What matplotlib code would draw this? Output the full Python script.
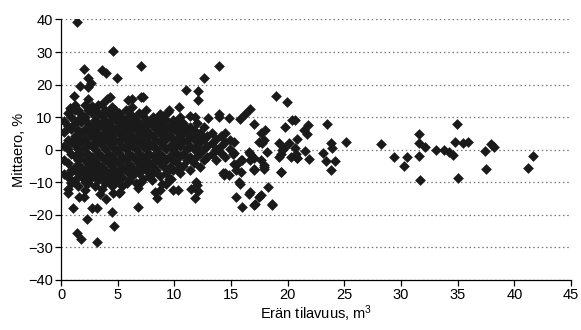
import matplotlib.pyplot as plt
import numpy as np

plt.rcParams['font.family'] = ['Liberation Sans', 'DejaVu Sans']
plt.rcParams['mathtext.default'] = 'regular'

# dense core: column x positions and the y values read in each column
core_x = [0.3, 0.6, 0.9, 1.2, 1.5, 1.8, 2.1, 2.4, 2.7, 3.0, 3.3, 3.6, 3.9, 4.2,
          4.5, 4.8, 5.1, 5.4, 5.7, 6.0, 6.3, 6.6, 6.9, 7.2, 7.5, 7.8, 8.1, 8.4,
          8.7, 9.0, 9.3, 9.6, 9.9, 10.2, 10.5, 10.8, 11.1, 11.4, 11.7, 12.0,
          12.3, 12.6, 12.9, 13.3, 13.7, 14.1, 14.5, 14.9, 15.3]
core_y = [
    [-3.2, 1.1, 5.4, -7.5, 8.8],
    [-12.1, -8.3, -4.2, 0.3, 3.1, 7.2, 11.4],
    [-10.2, -6.1, -1.3, 2.2, 6.3, 10.1, 12.6],
    [-9.3, -5.2, -2.1, 1.4, 4.2, 8.1, 12.2],
    [-11.2, -7.1, -3.3, 0.2, 3.4, 6.1, 9.2, 12.3],
    [-8.2, -5.4, -1.2, 2.3, 5.1, 8.4, 11.1],
    [-12.3, -9.1, -6.2, -3.1, 0.4, 3.2, 6.3, 10.1, 13.8],
    [-10.1, -7.3, -4.1, -1.2, 2.1, 5.3, 8.2, 12.1],
    [-8.4, -5.2, -2.3, 1.1, 4.2, 7.1, 11.2, 13.3],
    [-11.1, -6.2, -3.1, 0.2, 3.3, 6.2, 9.1, 12.4],
    [-9.2, -7.1, -4.3, -1.1, 2.2, 5.1, 8.3, 11.2],
    [-12.2, -8.1, -5.3, -2.2, 1.3, 4.1, 7.2, 10.3, 14.1],
    [-10.3, -6.2, -3.1, 0.1, 3.2, 6.4, 9.1, 12.2],
    [-9.1, -7.2, -4.1, -1.3, 2.2, 5.1, 8.2, 11.3],
    [-11.3, -8.2, -5.1, -2.1, 1.2, 4.3, 7.1, 10.2, 13.2],
    [-10.1, -6.3, -3.2, 0.2, 3.1, 6.2, 9.3, 12.1],
    [-9.3, -7.1, -4.2, -1.1, 2.3, 5.2, 8.1, 11.2],
    [-11.1, -8.3, -5.2, -2.2, 1.1, 4.2, 7.3, 10.1],
    [-6.1, -3.2, 0.1, 3.2, 6.1, 9.2, 12.2],
    [-9.2, -7.1, -4.3, -1.2, 2.1, 5.3, 8.1, 11.3],
    [-8.1, -5.2, -2.1, 1.2, 4.1, 7.2, 10.3, 13.1],
    [-10.2, -6.1, -3.3, 0.2, 3.1, 6.2, 9.1],
    [-7.2, -4.1, -1.1, 2.3, 5.2, 8.1, 11.2],
    [-9.1, -5.2, -2.2, 1.1, 4.3, 7.1, 10.2],
    [-6.2, -3.1, 0.2, 3.3, 6.1, 9.2, 12.1],
    [-8.1, -4.2, -1.3, 2.1, 5.2, 8.3],
    [-7.1, -5.3, -2.1, 1.2, 4.1, 7.2, 10.1],
    [-6.2, -3.1, 0.3, 3.1, 6.2, 9.1],
    [-8.2, -4.1, -1.2, 2.2, 5.1, 8.2],
    [-5.1, -2.2, 1.1, 4.2, 7.1, 10.2],
    [-7.2, -3.1, 0.2, 3.3, 6.1, 9.2],
    [-5.2, -2.1, 1.2, 4.1, 7.2],
    [-6.1, -3.2, 0.1, 3.2, 6.3, 9.1],
    [-4.1, -1.2, 2.1, 5.3, 8.1],
    [-7.2, -2.1, 1.2, 4.1, 7.2, 10.1],
    [-5.1, -1.3, 2.2, 5.1, 8.2],
    [-3.2, 0.1, 3.1, 6.2],
    [-6.1, -2.2, 1.1, 4.3, 7.1, 10.2],
    [-4.2, 0.2, 3.2, 6.1],
    [-2.1, 1.2, 4.1, 8.2],
    [-5.2, -1.1, 2.3, 5.1],
    [-3.1, 0.2, 3.2, 7.1],
    [1.1, 4.2, -2.2],
    [-1.2, 2.1, 5.2],
    [0.1, 3.3, -3.1],
    [1.2, 4.1, -1.1],
    [-2.2, 2.2, 5.1],
    [0.2, 3.1],
    [-1.1, 2.2],
]

# points around the core, read one by one
spread_x = [1.38, 4.6, 7.06, 2.06, 3.6, 3.95, 4.9, 2.4, 2.65, 1.68, 2.4, 1.17,
            2.35, 0.8, 6.24, 7.1, 4.03, 4.3, 5.9, 3.3, 1.2, 13.9, 12.6, 11.0,
            12.1, 12.1, 10.4, 19.0, 19.9, 16.7, 16.2, 13.0, 13.9, 14.8, 15.8,
            17.0, 18.0, 20.4, 19.8, 21.4, 11.8, 9.5, 7.2, 9.4, 8.7, 13.9, 17.6,
            17.9, 17.5, 19.2, 19.7, 20.6, 19.2, 16.6, 16.7, 15.3, 15.9, 17.9,
            17.6, 20.3, 20.7, 10.35, 9.7, 10.3, 11.5, 12.0, 11.8, 12.1, 14.5,
            15.4, 15.4, 15.8, 15.95, 16.7, 17.1, 17.6, 18.3, 18.6, 17.0, 17.9,
            17.0, 16.7, 19.4, 19.4, 19.5, 20.8, 20.1, 15.95, 15.2, 14.3, 14.8,
            17.7, 18.2, 9.3, 0.94, 0.6, 1.6, 2.06, 1.09, 2.7, 3.15, 2.3, 1.38,
            1.8, 3.15, 4.7, 4.5, 3.97, 3.44, 5.1, 4.6, 6.8, 6.8, 5.8, 4.9, 7.06,
            8.0, 8.9, 8.3, 9.9, 0.88, 1.68, 2.1, 2.7, 5.2, 8.5, 8.7, 11.9, 9.55,
            14.4, 15.7, 16.6, 17.0, 17.5, 18.65, 17.0, 17.9, 19.4, 15.4, 15.9]
spread_y = [39.3, 30.3, 25.7, 24.8, 24.5, 23.4, 22.1, 21.9, 20.6, 19.5, 19.1,
            16.5, 15.7, 12.9, 15.7, 16.1, 15.7, 16.2, 15.2, 13.7, 13.7, 25.8,
            21.9, 18.3, 18.1, 15.2, 13.0, 16.5, 14.5, 12.5, 11.1, 9.6, 10.1,
            9.6, 9.3, 7.8, 6.0, 9.1, 7.0, 6.0, 9.9, 12.2, 16.2, 11.6, 11.1,
            11.1, 5.0, 2.9, 2.4, 1.9, 0.4, 0.4, -2.2, -0.7, -3.2, -4.3, -3.2,
            -4.8, -3.2, -2.2, -1.2, -5.8, -8.9, -12.5, -12.2, -10.9, -15.0,
            -12.7, -7.3, -4.8, -14.5, -10.4, -17.6, -13.0, -16.6, -14.0, -11.4,
            -16.6, -6.3, -5.3, -2.7, -1.2, -6.8, -1.2, -0.2, -2.7, 1.9, -3.2,
            -1.2, -7.3, -7.8, 1.9, -0.7, -10.4, -9.9, -13.3, -14.5, -14.7,
            -17.9, -17.9, -17.9, -21.2, -25.5, -27.3, -28.4, -23.5, -19.1,
            -15.3, -13.7, -13.3, -13.3, -11.9, -17.6, -10.2, -8.6, -9.9, -9.4,
            -10.6, -13.0, -12.5, -6.8, -7.3, -9.9, -7.8, -13.0, -15.0, -12.5,
            -9.9, -8.9, -7.8, -9.9, -13.5, -16.9, -14.5, -16.9, -6.0, -5.8,
            -7.0, -6.3, -7.0]

# sparse tail at larger volumes
tail_x = [20.65, 21.8, 21.7, 20.8, 23.5, 23.8, 23.9, 25.1, 21.5, 20.8, 21.9,
          23.1, 23.4, 24.2, 23.8, 28.2, 29.4, 30.5, 30.3, 31.6, 31.6, 32.1,
          31.6, 31.7, 33.1, 33.8, 34.2, 34.6, 34.9, 34.8, 35.5, 35.9, 35.0,
          37.4, 37.9, 38.2, 37.5, 41.6, 41.2]
tail_y = [9.1, 7.5, 4.8, 3.4, 7.8, 2.1, 0.4, 2.4, -0.4, -2.7, -3.0, -1.0, -3.4,
          -3.5, -6.3, 1.6, -2.4, -2.4, -5.1, 4.8, 1.9, 0.9, -2.0, -9.4, -0.2,
          -0.2, -0.7, -1.7, 7.8, 2.4, 2.1, 2.3, -8.7, -0.5, 1.6, 0.9, -6.0,
          -2.0, -5.6]

xs = []
ys = []
for cx, col in zip(core_x, core_y):
    for v in col:
        xs.append(cx)
        ys.append(v)
xs = xs + spread_x + tail_x
ys = ys + spread_y + tail_y

fig = plt.figure(figsize=(5.81, 3.30), dpi=100)
ax = fig.add_axes([0.105, 0.152, 0.878, 0.789])

ax.scatter(xs, ys, marker='D', s=30, color='#1a1a1a', linewidths=0, zorder=3)

ax.set_xlim(0, 45)
ax.set_ylim(-40, 40)
ax.set_xticks(np.arange(0, 46, 5))
ax.set_yticks(np.arange(-40, 41, 10))
ax.yaxis.grid(True, linestyle=(0, (1.2, 2.2)), color='#777777', linewidth=0.9)
ax.set_axisbelow(True)

for s in ['top', 'right']:
    ax.spines[s].set_visible(False)
for s in ['left', 'bottom']:
    ax.spines[s].set_linewidth(0.9)
ax.tick_params(direction='out', length=4, width=0.9, labelsize=10.5, pad=2)

ax.set_xlabel('Erän tilavuus, m$^3$', fontsize=10.5, labelpad=1)
ax.set_ylabel('Mittaero, %', fontsize=10.5, labelpad=1)

fig.savefig('out.png', dpi=100)
